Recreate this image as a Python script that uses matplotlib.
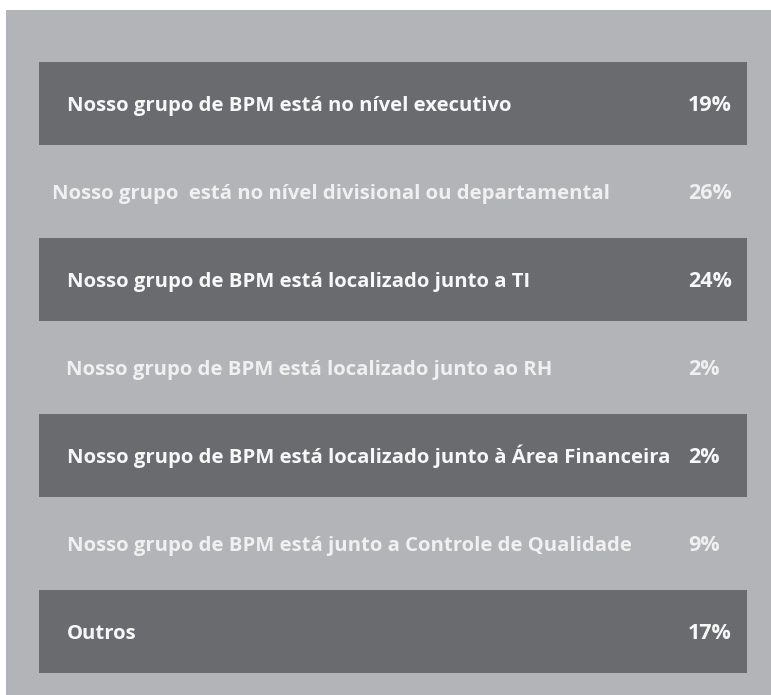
import matplotlib
matplotlib.use("Agg")
import matplotlib.pyplot as plt

labels = [
    "Nosso grupo de BPM está no nível executivo",
    "Nosso grupo  está no nível divisional ou departamental",
    "Nosso grupo de BPM está localizado junto a TI",
    "Nosso grupo de BPM está localizado junto ao RH",
    "Nosso grupo de BPM está localizado junto à Área Financeira",
    "Nosso grupo de BPM está junto a Controle de Qualidade",
    "Outros",
]
values = [19, 26, 24, 2, 2, 9, 17]
dark_rows = [True, False, True, False, True, False, True]

W, H = 771, 695
fig = plt.figure(figsize=(W / 100, H / 100), dpi=100, facecolor="white")

# gray background panel
bg = fig.add_axes([6 / W, 0, (W - 6) / W, (H - 10) / H], zorder=0)
bg.set_facecolor("#b3b4b7")
bg.set_xticks([])
bg.set_yticks([])
for s in bg.spines.values():
    s.set_visible(False)

# axes covering the table area: x 39..747 px, y 59.5..675.5 px
left, right = 39, 747
top, bottom = 59.5, 675.5
ax = fig.add_axes([left / W, 1 - bottom / H, (right - left) / W, (bottom - top) / H], zorder=1)
ax.set_xlim(0, 1)
ax.set_ylim(len(labels) - 0.5, -0.5)
ax.axis("off")

n = len(labels)
ys = list(range(n))
dark_y = [y for y, d in zip(ys, dark_rows) if d]
ax.barh(dark_y, [1] * len(dark_y), left=0, height=0.945, color="#6a6b6f",
        edgecolor="none")

font = "Open Sans"
label_x = [0.0395, 0.018, 0.0395, 0.038, 0.0395, 0.0395, 0.0395]
base_off = 0.08
for y, lab, val, d, lx in zip(ys, labels, values, dark_rows, label_x):
    col = "#f7f7f7" if d else "#f0f0f0"
    ax.text(lx, y + base_off, lab, ha="left", va="baseline", fontsize=14.6,
            fontweight="bold", family=font, color=col)
    ax.text(0.917, y + base_off, f"{val}%", ha="left", va="baseline", fontsize=15.5,
            fontweight="bold", family=font, color=col)

fig.savefig("out.png", dpi=100, facecolor="white")
